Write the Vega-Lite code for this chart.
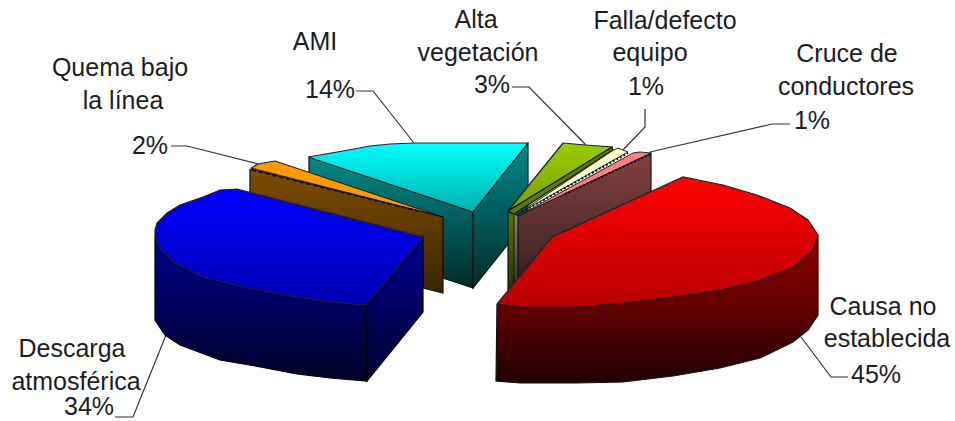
{
"$schema":"https://vega.github.io/schema/vega-lite/v6.json",
"width":955,"height":421,"padding":0,"autosize":{"type":"none"},
"background":"white",
"config":{"view":{"stroke":null}},
"datasets":{
"leaders":[
{"k":"ami","n":1,"u":356,"v":91},{"k":"ami","n":2,"u":373,"v":91},{"k":"ami","n":3,"u":414,"v":143},
{"k":"quema","n":1,"u":171,"v":146},{"k":"quema","n":2,"u":187,"v":146},{"k":"quema","n":3,"u":258,"v":164},
{"k":"alta","n":1,"u":512,"v":87},{"k":"alta","n":2,"u":529,"v":87},{"k":"alta","n":3,"u":586,"v":145},
{"k":"falla","n":1,"u":645,"v":109},{"k":"falla","n":2,"u":645,"v":127},{"k":"falla","n":3,"u":623,"v":150},
{"k":"cruce","n":1,"u":790,"v":124},{"k":"cruce","n":2,"u":772,"v":124},{"k":"cruce","n":3,"u":650,"v":152},
{"k":"descarga","n":1,"u":115,"v":417},{"k":"descarga","n":2,"u":133,"v":417},{"k":"descarga","n":3,"u":166,"v":335},
{"k":"causa","n":1,"u":848,"v":377},{"k":"causa","n":2,"u":831,"v":377},{"k":"causa","n":3,"u":801,"v":337}
],
"amiLeftWall":[{"n":1,"u":309,"v":157},{"n":2,"u":473,"v":212},{"n":3,"u":473,"v":288},{"n":4,"u":309,"v":234},{"n":5,"u":309,"v":157}],
"amiRightWall":[{"n":1,"u":528,"v":143},{"n":2,"u":473,"v":212},{"n":3,"u":473,"v":288},{"n":4,"u":528,"v":219},{"n":5,"u":528,"v":143}],
"amiTop":[{"n":1,"u":308,"v":157},{"n":2,"u":343,"v":151},{"n":3,"u":370,"v":146},{"n":4,"u":390,"v":144},{"n":5,"u":415,"v":143},{"n":6,"u":528,"v":143},{"n":7,"u":473,"v":212},{"n":8,"u":308,"v":157}],
"quemaTop":[{"n":1,"u":251,"v":168},{"n":2,"u":258,"v":164},{"n":3,"u":275,"v":161},{"n":4,"u":443,"v":217},{"n":5,"u":251,"v":168}],
"quemaWall":[{"n":1,"u":250,"v":169},{"n":2,"u":443,"v":217},{"n":3,"u":443,"v":293},{"n":4,"u":250,"v":245},{"n":5,"u":250,"v":169}],
"quemaEdge":[{"n":1,"u":252,"v":170},{"n":2,"u":418,"v":211}],
"descargaWallFront":[{"n":1,"u":155,"v":237},{"n":2,"u":160,"v":248},{"n":3,"u":173,"v":262},{"n":4,"u":203,"v":277},{"n":5,"u":247,"v":288},{"n":6,"u":297,"v":297},{"n":7,"u":330,"v":302},{"n":8,"u":366,"v":305},{"n":9,"u":367,"v":381},{"n":10,"u":330,"v":378},{"n":11,"u":297,"v":374},{"n":12,"u":255,"v":366},{"n":13,"u":220,"v":360},{"n":14,"u":180,"v":345},{"n":15,"u":165,"v":335},{"n":16,"u":155,"v":320},{"n":17,"u":155,"v":237}],
"descargaWallSide":[{"n":1,"u":366,"v":305},{"n":2,"u":423,"v":237},{"n":3,"u":423,"v":312},{"n":4,"u":367,"v":381},{"n":5,"u":366,"v":305}],
"descargaTop":[{"n":1,"u":155,"v":230},{"n":2,"u":157,"v":223},{"n":3,"u":167,"v":213},{"n":4,"u":180,"v":205},{"n":5,"u":203,"v":197},{"n":6,"u":220,"v":190},{"n":7,"u":237,"v":189},{"n":8,"u":423,"v":237},{"n":9,"u":366,"v":305},{"n":10,"u":330,"v":302},{"n":11,"u":297,"v":297},{"n":12,"u":247,"v":288},{"n":13,"u":203,"v":277},{"n":14,"u":173,"v":262},{"n":15,"u":160,"v":248},{"n":16,"u":155,"v":237},{"n":17,"u":155,"v":230}],
"altaWall":[{"n":1,"u":508,"v":211},{"n":2,"u":515,"v":214},{"n":3,"u":515,"v":280},{"n":4,"u":508,"v":290},{"n":5,"u":508,"v":211}],
"altaStrip":[{"n":1,"u":612,"v":147},{"n":2,"u":613,"v":150},{"n":3,"u":514,"v":214},{"n":4,"u":508,"v":211},{"n":5,"u":612,"v":147}],
"altaTop":[{"n":1,"u":563,"v":143},{"n":2,"u":585,"v":145},{"n":3,"u":612,"v":147},{"n":4,"u":608,"v":151},{"n":5,"u":508,"v":211},{"n":6,"u":563,"v":143}],
"fallaWall":[{"n":1,"u":514,"v":214},{"n":2,"u":519,"v":216},{"n":3,"u":519,"v":276},{"n":4,"u":514,"v":282},{"n":5,"u":514,"v":214}],
"fallaTop":[{"n":1,"u":612,"v":151},{"n":2,"u":618,"v":148},{"n":3,"u":628,"v":152},{"n":4,"u":516,"v":215},{"n":5,"u":612,"v":151}],
"fallaEdge":[{"n":1,"u":522,"v":212},{"n":2,"u":628,"v":153}],
"cruceWall":[{"n":1,"u":518,"v":216},{"n":2,"u":651,"v":153},{"n":3,"u":651,"v":230},{"n":4,"u":518,"v":293},{"n":5,"u":518,"v":216}],
"cruceTop":[{"n":1,"u":518,"v":216},{"n":2,"u":633,"v":153},{"n":3,"u":640,"v":152},{"n":4,"u":651,"v":153},{"n":5,"u":518,"v":216}],
"cruceEdge":[{"n":1,"u":565,"v":194},{"n":2,"u":651,"v":154}],
"causaWall":[{"n":1,"u":497,"v":304},{"n":2,"u":520,"v":307},{"n":3,"u":577,"v":307},{"n":4,"u":623,"v":303},{"n":5,"u":673,"v":297},{"n":6,"u":720,"v":290},{"n":7,"u":760,"v":280},{"n":8,"u":793,"v":267},{"n":9,"u":813,"v":250},{"n":10,"u":818,"v":235},{"n":11,"u":818,"v":315},{"n":12,"u":808,"v":330},{"n":13,"u":793,"v":342},{"n":14,"u":760,"v":358},{"n":15,"u":720,"v":368},{"n":16,"u":673,"v":376},{"n":17,"u":623,"v":382},{"n":18,"u":577,"v":383},{"n":19,"u":520,"v":383},{"n":20,"u":496,"v":381},{"n":21,"u":497,"v":304}],
"causaTop":[{"n":1,"u":497,"v":304},{"n":2,"u":552,"v":237},{"n":3,"u":683,"v":177},{"n":4,"u":723,"v":185},{"n":5,"u":757,"v":195},{"n":6,"u":790,"v":208},{"n":7,"u":808,"v":220},{"n":8,"u":818,"v":235},{"n":9,"u":813,"v":250},{"n":10,"u":793,"v":267},{"n":11,"u":760,"v":280},{"n":12,"u":720,"v":290},{"n":13,"u":673,"v":297},{"n":14,"u":623,"v":303},{"n":15,"u":577,"v":307},{"n":16,"u":520,"v":307},{"n":17,"u":497,"v":304}],
"labels":[
{"t":"Quema bajo","u":120,"v":76},{"t":"la línea","u":123,"v":109},{"t":"2%","u":150,"v":154},
{"t":"AMI","u":315,"v":50},{"t":"14%","u":330,"v":98},
{"t":"Alta","u":476,"v":28},{"t":"vegetación","u":478,"v":61},{"t":"3%","u":492,"v":93},
{"t":"Falla/defecto","u":665,"v":29},{"t":"equipo","u":650,"v":61},{"t":"1%","u":646,"v":95},
{"t":"Cruce de","u":847,"v":62},{"t":"conductores","u":846,"v":95},{"t":"1%","u":812,"v":129},
{"t":"Descarga","u":72,"v":357},{"t":"atmosférica","u":76,"v":390},{"t":"34%","u":89,"v":415},
{"t":"Causa no","u":883,"v":315},{"t":"establecida","u":887,"v":347},{"t":"45%","u":876,"v":383}
]
},
"encoding":{
"x":{"field":"u","type":"quantitative","scale":{"domain":[0,955],"nice":false,"zero":false},"axis":null},
"y":{"field":"v","type":"quantitative","scale":{"domain":[421,0],"nice":false,"zero":false},"axis":null},
"order":{"field":"n","type":"ordinal"}
},
"layer":[
{"data":{"name":"leaders"},"mark":{"type":"line","stroke":"#333333","strokeWidth":1.2},"encoding":{"detail":{"field":"k"}}},
{"data":{"name":"amiLeftWall"},"mark":{"type":"line","filled":true,"stroke":"#111111","strokeWidth":1.2,"fill":{"gradient":"linear","x1":0,"y1":0,"x2":0,"y2":1,"stops":[{"offset":0,"color":"#008a8a"},{"offset":1,"color":"#002c2c"}]}}},
{"data":{"name":"amiRightWall"},"mark":{"type":"line","filled":true,"stroke":"#111111","strokeWidth":1.2,"fill":{"gradient":"linear","x1":0,"y1":0,"x2":0,"y2":1,"stops":[{"offset":0,"color":"#008a8a"},{"offset":1,"color":"#002c2c"}]}}},
{"data":{"name":"amiTop"},"mark":{"type":"line","filled":true,"stroke":"#222222","strokeWidth":1.2,"fill":{"gradient":"linear","x1":0,"y1":0,"x2":0,"y2":1,"stops":[{"offset":0,"color":"#00ffff"},{"offset":1,"color":"#00b0b0"}]}}},
{"data":{"name":"quemaTop"},"mark":{"type":"line","filled":true,"stroke":"#222222","strokeWidth":1.2,"fill":"#ff9900"}},
{"data":{"name":"quemaWall"},"mark":{"type":"line","filled":true,"stroke":"#111111","strokeWidth":1.2,"fill":{"gradient":"linear","x1":0,"y1":0,"x2":0,"y2":1,"stops":[{"offset":0,"color":"#7f4d00"},{"offset":1,"color":"#3a2300"}]}}},
{"data":{"name":"quemaEdge"},"mark":{"type":"line","stroke":"#111111","strokeWidth":2,"strokeDash":[4,3]}},
{"data":{"name":"descargaWallSide"},"mark":{"type":"line","filled":true,"stroke":"#000000","strokeWidth":1.2,"fill":{"gradient":"linear","x1":0,"y1":0,"x2":0,"y2":1,"stops":[{"offset":0,"color":"#000090"},{"offset":1,"color":"#000030"}]}}},
{"data":{"name":"descargaWallFront"},"mark":{"type":"line","filled":true,"stroke":"#000000","strokeWidth":1.2,"fill":{"gradient":"linear","x1":0,"y1":0,"x2":0,"y2":1,"stops":[{"offset":0,"color":"#000090"},{"offset":1,"color":"#000028"}]}}},
{"data":{"name":"descargaTop"},"mark":{"type":"line","filled":true,"stroke":"#222222","strokeWidth":1.2,"fill":{"gradient":"linear","x1":0,"y1":0,"x2":0,"y2":1,"stops":[{"offset":0,"color":"#0000ff"},{"offset":1,"color":"#0000b0"}]}}},
{"data":{"name":"altaWall"},"mark":{"type":"line","filled":true,"stroke":"#111111","strokeWidth":1.2,"fill":{"gradient":"linear","x1":0,"y1":0,"x2":0,"y2":1,"stops":[{"offset":0,"color":"#5f7000"},{"offset":1,"color":"#2a3300"}]}}},
{"data":{"name":"altaTop"},"mark":{"type":"line","filled":true,"stroke":"#222222","strokeWidth":1.2,"fill":{"gradient":"linear","x1":0,"y1":0,"x2":0,"y2":1,"stops":[{"offset":0,"color":"#99cc00"},{"offset":1,"color":"#789f00"}]}}},
{"data":{"name":"altaStrip"},"mark":{"type":"line","filled":true,"stroke":"#111111","strokeWidth":1.2,"fill":"#5f7a00"}},
{"data":{"name":"fallaWall"},"mark":{"type":"line","filled":true,"stroke":"#111111","strokeWidth":1,"fill":{"gradient":"linear","x1":0,"y1":0,"x2":0,"y2":1,"stops":[{"offset":0,"color":"#8a8a70"},{"offset":1,"color":"#3a3a30"}]}}},
{"data":{"name":"fallaTop"},"mark":{"type":"line","filled":true,"stroke":"#222222","strokeWidth":1,"fill":"#ffffcc"}},
{"data":{"name":"fallaEdge"},"mark":{"type":"line","stroke":"#111111","strokeWidth":2,"strokeDash":[2,2]}},
{"data":{"name":"cruceWall"},"mark":{"type":"line","filled":true,"stroke":"#111111","strokeWidth":1.2,"fill":{"gradient":"linear","x1":0,"y1":0,"x2":0,"y2":1,"stops":[{"offset":0,"color":"#85413f"},{"offset":0.7,"color":"#4a2a2a"},{"offset":1,"color":"#2c1818"}]}}},
{"data":{"name":"cruceTop"},"mark":{"type":"line","filled":true,"stroke":"#222222","strokeWidth":1,"fill":"#ff8080"}},
{"data":{"name":"cruceEdge"},"mark":{"type":"line","stroke":"#111111","strokeWidth":2,"strokeDash":[2,2]}},
{"data":{"name":"causaWall"},"mark":{"type":"line","filled":true,"stroke":"#111111","strokeWidth":1.2,"fill":{"gradient":"linear","x1":0,"y1":0,"x2":0,"y2":1,"stops":[{"offset":0,"color":"#900000"},{"offset":0.5,"color":"#600000"},{"offset":1,"color":"#200000"}]}}},
{"data":{"name":"causaTop"},"mark":{"type":"line","filled":true,"stroke":"#222222","strokeWidth":1.2,"fill":{"gradient":"linear","x1":0,"y1":0,"x2":0,"y2":1,"stops":[{"offset":0,"color":"#ff0000"},{"offset":1,"color":"#b80000"}]}}},
{"data":{"name":"labels"},"mark":{"type":"text","font":"Liberation Sans","fontSize":25,"align":"center","baseline":"alphabetic","fill":"#1c1c24"},"encoding":{"text":{"field":"t","type":"nominal"},"order":{"value":null}}}
]
}
